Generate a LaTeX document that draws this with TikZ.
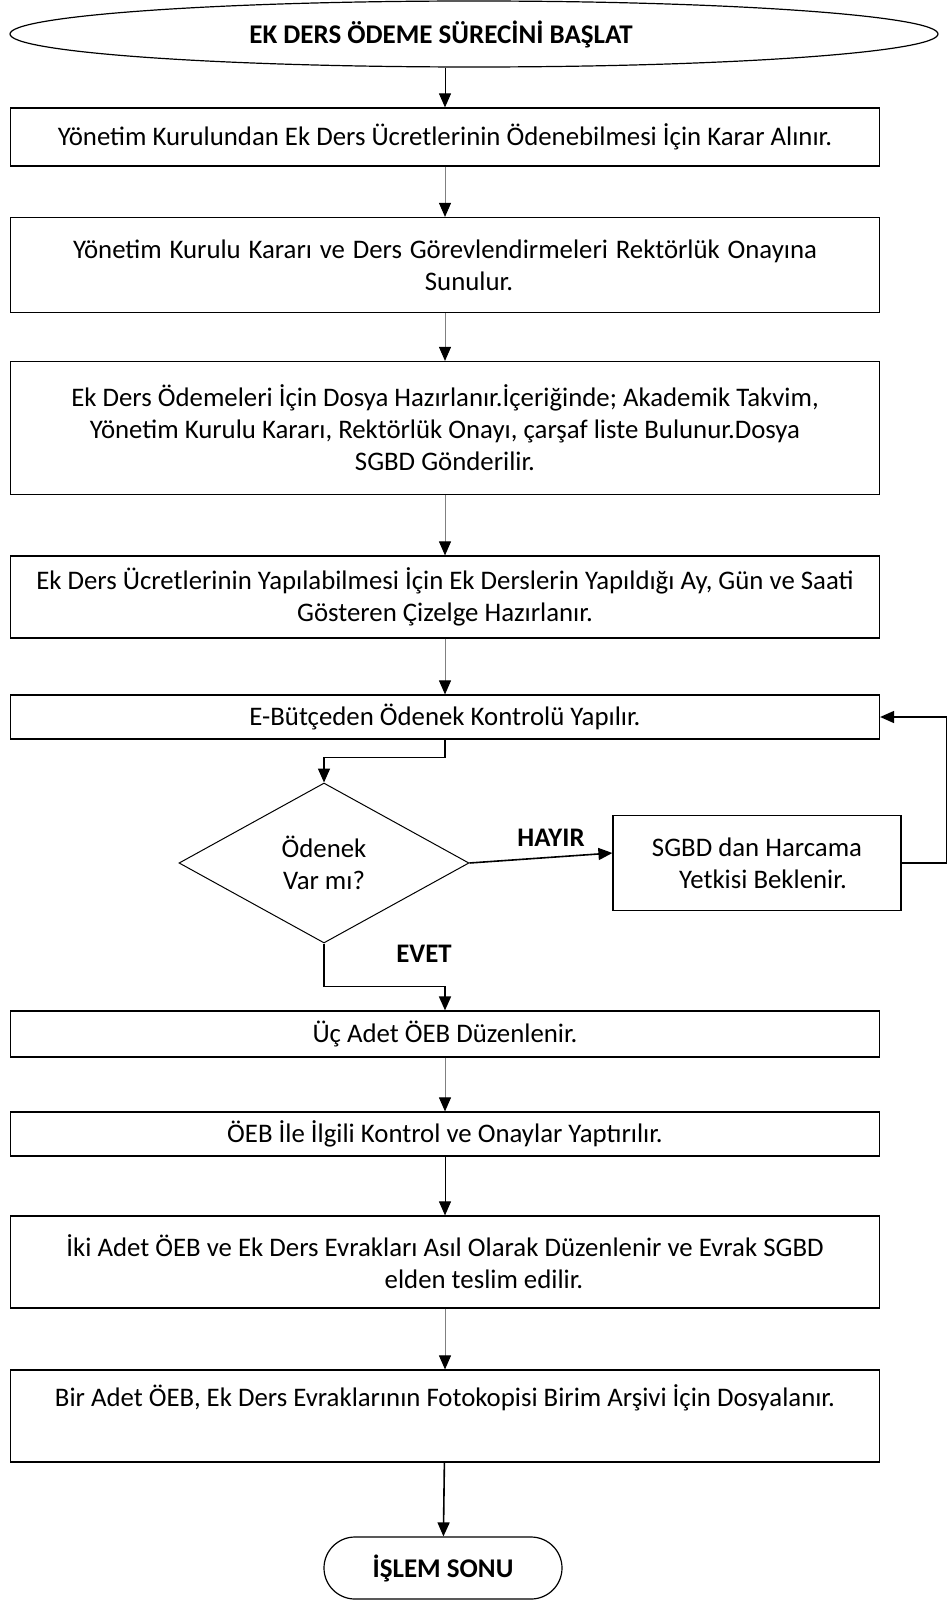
\documentclass[tikz,border=0pt]{standalone}
\usepackage{fontspec}
\setmainfont{Carlito}
\usetikzlibrary{arrows.meta,shapes.geometric,shapes.misc,calc}

\begin{document}
\begin{tikzpicture}[
  x=1pt, y=-1pt,
  font=\fontsize{26.8}{32}\selectfont, >={Triangle[length=14pt,width=12pt]},
  box/.style={draw, line width=1.2pt, minimum width=869pt, inner sep=2pt, align=center},
  term/.style={draw, line width=1.2pt, inner sep=0pt, font=\fontsize{27}{32}\selectfont\bfseries},
  dec/.style={draw, diamond, line width=1pt, minimum width=290pt, minimum height=160pt, inner sep=0pt, align=center},
  arr/.style={->, line width=1.6pt},
  tarr/.style={->, line width=1pt},
  garr/.style={-{Triangle[length=14pt,width=12pt,black]}, line width=1pt, gray},
  lbl/.style={font=\fontsize{26.8}{32}\selectfont\bfseries}]
  \useasboundingbox (0,0) rectangle (948,1608);
  % --- start / end ---
  \node[term, ellipse, minimum width=928pt, minimum height=66pt] (bas) at (474,34)
    {EK DERS ÖDEME SÜRECİNİ BAŞLAT\hspace*{66pt}};
  \node[term, rounded rectangle, minimum width=238pt, minimum height=62pt] (son) at (443,1568) {İŞLEM SONU};
  % --- spine ---
  \node[box, minimum height=58pt]  (k1) at (445,137)
    {Yönetim Kurulundan Ek Ders Ücretlerinin Ödenebilmesi İçin Karar Alınır.};
  \node[box, minimum height=95pt]  (k2) at (445,265)
    {\makebox[744pt][s]{Yönetim Kurulu Kararı ve Ders Görevlendirmeleri Rektörlük Onayına}\\\hspace*{48pt}Sunulur.};
  \node[box, minimum height=133pt] (k3) at (445,428)
    {Ek Ders Ödemeleri İçin Dosya Hazırlanır.İçeriğinde; Akademik Takvim,\\
     Yönetim Kurulu Kararı, Rektörlük Onayı, çarşaf liste Bulunur.Dosya\\
     SGBD Gönderilir.};
  \node[box, minimum height=82pt]  (k4) at (445,597)
    {Ek Ders Ücretlerinin Yapılabilmesi İçin Ek Derslerin Yapıldığı Ay, Gün ve Saati\\
     Gösteren Çizelge Hazırlanır.};
  \node[box, minimum height=44pt]  (k5) at (445,717) {E-Bütçeden Ödenek Kontrolü Yapılır.};
  % --- decision ---
  \node[dec] (q) at (324,863) {Ödenek\\Var mı?};
  \node[box, minimum width=288pt, minimum height=95pt] (bekle) at (757,863)
    {SGBD dan Harcama\\\hspace*{12pt}Yetkisi Beklenir.};
  % --- lower spine ---
  \node[box, minimum height=46pt]  (k6) at (445,1034) {Üç Adet ÖEB Düzenlenir.};
  \node[box, minimum height=44pt]  (k7) at (445,1134) {ÖEB İle İlgili Kontrol ve Onaylar Yaptırılır.};
  \node[box, minimum height=92pt]  (k8) at (445,1262)
    {İki Adet ÖEB ve Ek Ders Evrakları Asıl Olarak Düzenlenir ve Evrak SGBD\\
     \hspace*{78pt}elden teslim edilir.};
  \node[box, minimum height=92pt]  (k9) at (445,1416)
    {Bir Adet ÖEB, Ek Ders Evraklarının Fotokopisi Birim Arşivi İçin Dosyalanır.\\\strut};
  % --- labels ---
  \node[lbl] (hayir) at (551,838) {HAYIR};
  \node[lbl] (evet)  at (424,954) {EVET};
  % --- connectors ---
  \draw[tarr] (bas.south -| k1.north) -- (k1.north);
  \draw[garr] (k1) -- (k2);
  \draw[garr] (k2) -- (k3);
  \draw[garr] (k3) -- (k4);
  \draw[garr] (k4) -- (k5);
  \draw[arr] (k5.south) -- ++(0,18) -| (q.north);
  \draw[arr] (q.east) -- ([yshift=10pt]bekle.west);
  \draw[arr] (bekle.east) -- ++(45,0) |- (k5.east);
  \draw[arr] (q.south) -- ++(0,43) -| (k6.north);
  \draw[garr] (k6) -- (k7);
  \draw[tarr] (k7) -- (k8);
  \draw[garr] (k8) -- (k9);
  \draw[arr] (k9) -- (son);
\end{tikzpicture}
\end{document}
